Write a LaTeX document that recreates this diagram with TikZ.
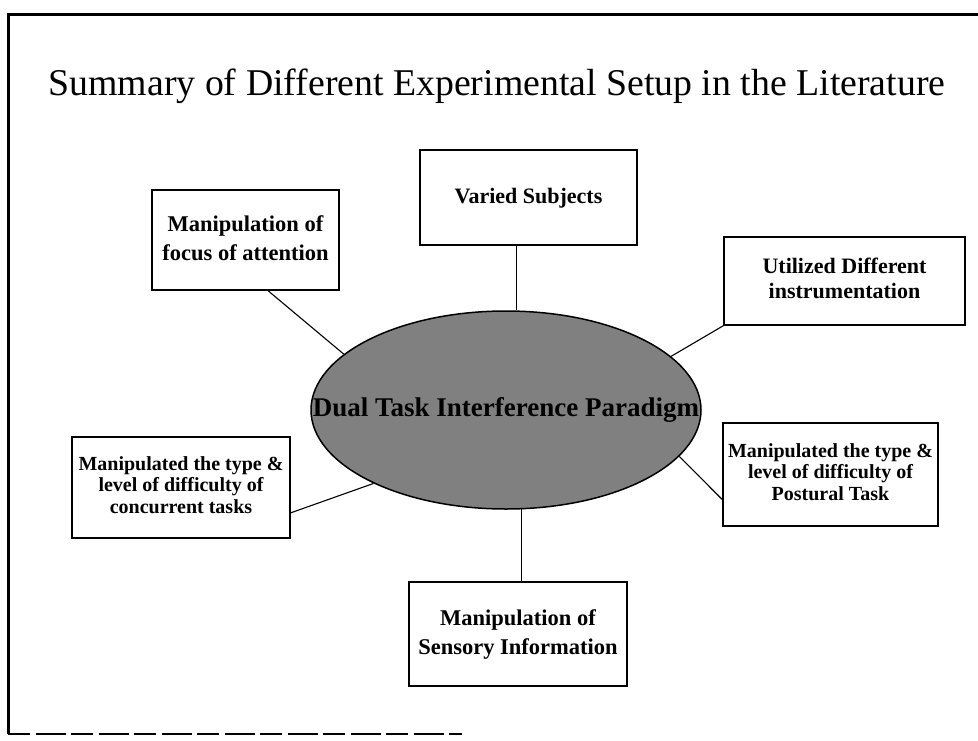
\documentclass[tikz,border=0pt]{standalone}
\usepackage{fontspec}
\setmainfont{Liberation Serif}
\usetikzlibrary{shapes.geometric}
% stack of centred lines, lifted a little inside its box
\newcommand{\liftlines}[2]{\raisebox{#1}{\begin{tabular}{@{}c@{}}#2\end{tabular}}}
\begin{document}
\begin{tikzpicture}[x=1pt,y=-1pt,
  topic/.style={draw=black, line width=1.5pt, fill=white, inner sep=0pt,
    font=\bfseries\fontsize{22.5}{29}\selectfont},
  smalltopic/.style={topic, font=\bfseries\fontsize{20}{21.5}\selectfont},
  link/.style={draw=black, line width=1.1pt},
  frameline/.style={draw=black, line width=3pt}]
\useasboundingbox (0,0) rectangle (978,740);
\fill[white] (0,0) rectangle (978,740);

% outer frame
\draw[frameline] (8,734) -- (8,14) -- (978,14);
\draw[line width=1.5pt, dash pattern=on 22pt off 6pt on 30pt off 5pt] (8,734) -- (462,734);

% title
\node[font=\fontsize{37.8}{42}\selectfont, anchor=base] (title) at (497,95)
  {Summary of Different Experimental Setup in the Literature};

% central ellipse
\node[ellipse, draw=black, line width=1.5pt, fill=black!50,
  minimum width=390pt, minimum height=198pt, inner sep=0pt,
  font=\bfseries\fontsize{27}{30}\selectfont] (core) at (506,410)
  {\raisebox{4pt}{\makebox[0pt]{Dual Task Interference Paradigm}}};

% surrounding boxes
\node[topic, minimum width=217pt, minimum height=95pt,
  font=\bfseries\fontsize{22}{28}\selectfont] (vs) at (528.5,197.5)
  {\liftlines{1.5pt}{Varied Subjects}};
\node[topic, minimum width=187pt, minimum height=100pt] (fa) at (245.5,240)
  {\liftlines{1pt}{Manipulation of\\focus of attention}};
\node[topic, minimum width=241pt, minimum height=88pt,
  font=\bfseries\fontsize{22}{25}\selectfont] (ut) at (844.5,281)
  {\liftlines{10.5pt}{Utilized Different\\instrumentation}};
\node[smalltopic, minimum width=218pt, minimum height=101pt] (ct) at (181,487.5)
  {\liftlines{18pt}{Manipulated the type \&\\level of difficulty of\\concurrent tasks}};
\node[smalltopic, minimum width=215pt, minimum height=103pt] (pt) at (830.5,474.5)
  {\liftlines{8.5pt}{Manipulated the type \&\\level of difficulty of\\Postural Task}};
\node[topic, minimum width=218pt, minimum height=104pt] (si) at (518,634)
  {\liftlines{15.5pt}{Manipulation of\\Sensory Information}};

% connectors
\draw[link] (core.84 |- vs.south) -- (core.84);
\draw[link] (fa.-66) -- (core.161);
\draw[link] (ut.south west) -- (core.18.5);
\draw[link] (ct.-13) -- (core.209);
\draw[link] (core.-15) -- (pt.193);
\draw[link] (core.-81) -- (core.-81 |- si.north);
\end{tikzpicture}
\end{document}
